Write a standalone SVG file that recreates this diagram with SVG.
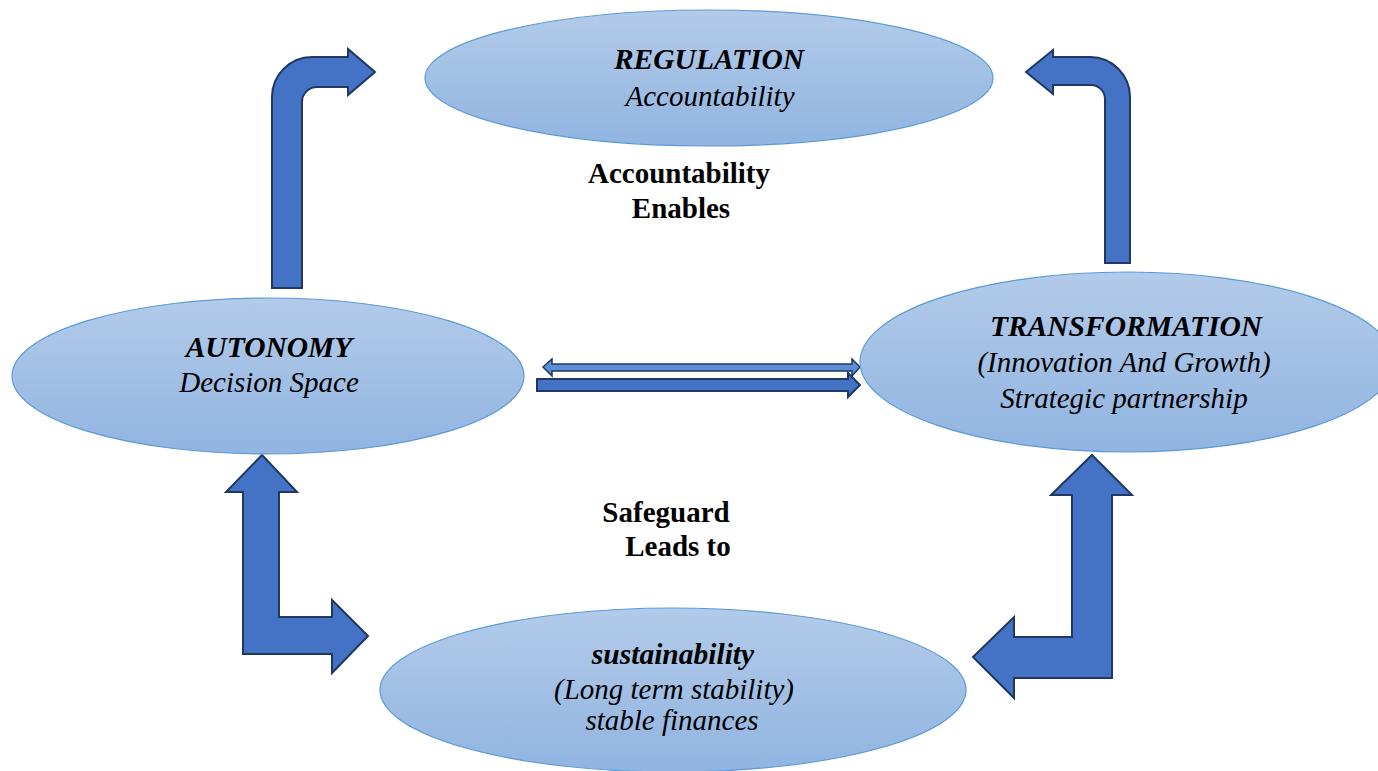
<svg xmlns="http://www.w3.org/2000/svg" width="1378" height="771" viewBox="0 0 1378 771">
<defs>
<linearGradient id="eg" x1="0" y1="0" x2="0" y2="1">
<stop offset="0" stop-color="#B3CBE9"/>
<stop offset="1" stop-color="#91B4E1"/>
</linearGradient>
</defs>
<style>
.el{fill:url(#eg);stroke:#5B9BD5;stroke-width:1.2}
.ar{fill:#4472C4;stroke:#1F3864;stroke-width:2;stroke-linejoin:miter}
.ar2{fill:#5B8FD6;stroke:#1F3864;stroke-width:1.5}
.t{font-family:"Liberation Serif","Times New Roman",serif;font-style:italic;font-size:29px;fill:#000;text-anchor:middle}
.tb{font-weight:bold;font-size:29.5px}
.lb{font-family:"Liberation Serif","Times New Roman",serif;font-weight:bold;font-size:29px;fill:#000;text-anchor:middle}
</style>
<rect width="1378" height="771" fill="#fff"/>
<g id="connectors">
<path class="ar" d="M272,288 L272,97 A40,40 0 0 1 312,57 L348,57 L348,49 L375,72 L348,95 L348,87 L317,87 A15,15 0 0 0 302,102 L302,288 Z"/>
<path class="ar" d="M1130,263 L1130,97 A40,40 0 0 0 1090,57 L1053,57 L1053,50 L1026,72 L1053,94 L1053,85 L1091,85 A14,14 0 0 1 1105,99 L1105,263 Z"/>
<path class="ar2" d="M543,367 L552,359 L552,364 L852,364 L852,359 L860,367 L852,376 L852,371 L552,371 L552,376 Z"/>
<path class="ar" d="M537,379 L848,379 L848,373 L860,385 L848,397 L848,391 L537,391 Z"/>
<path class="ar" d="M262,455 L297,492 L279,492 L279,617 L332,617 L332,600 L368,636 L332,673 L332,654 L243,654 L243,492 L226,492 Z"/>
<path class="ar" d="M1092,455 L1132,495 L1112,495 L1112,678 L1014,678 L1014,698 L973,657 L1014,617 L1014,637 L1072,637 L1072,495 L1051,495 Z"/>
</g>
<g id="regulation">
<ellipse class="el" cx="709" cy="78" rx="284" ry="68"/>
<text class="t tb" x="709" y="69">REGULATION</text>
<text class="t" x="710" y="106">Accountability</text>
</g>
<g id="autonomy">
<ellipse class="el" cx="268" cy="376" rx="256" ry="78"/>
<text class="t tb" x="269" y="357">AUTONOMY</text>
<text class="t" x="269" y="392">Decision Space</text>
</g>
<g id="transformation">
<ellipse class="el" cx="1127" cy="362" rx="267" ry="90"/>
<text class="t tb" x="1126" y="336">TRANSFORMATION</text>
<text class="t" x="1124" y="372">(Innovation And Growth)</text>
<text class="t" x="1124" y="408">Strategic partnership</text>
</g>
<g id="sustainability">
<ellipse class="el" cx="673" cy="690" rx="293" ry="82"/>
<text class="t tb" x="673" y="664">sustainability</text>
<text class="t" x="674" y="699">(Long term stability)</text>
<text class="t" x="672" y="730">stable finances</text>
</g>
<g id="labels">
<text class="lb" x="679" y="183">Accountability</text>
<text class="lb" x="681" y="218">Enables</text>
<text class="lb" x="666" y="522">Safeguard</text>
<text class="lb" x="678" y="556">Leads to</text>
</g>
</svg>
